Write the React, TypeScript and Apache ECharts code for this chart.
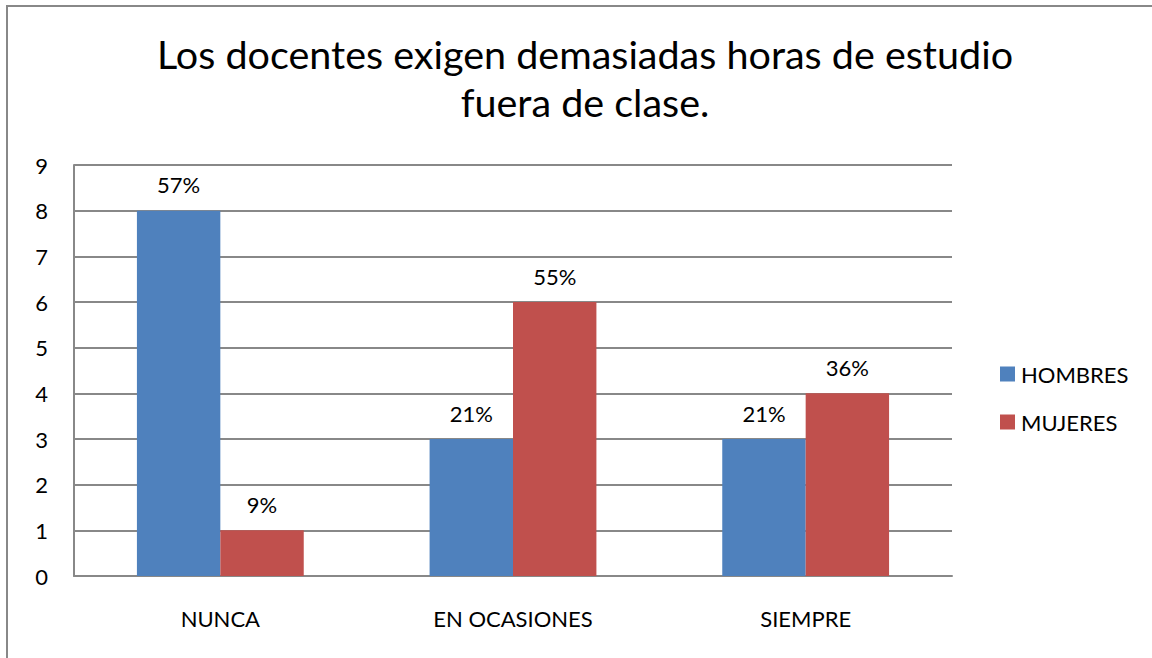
import React, { useEffect, useRef } from "react";
import * as echarts from "echarts";

const categories = ["NUNCA", "EN OCASIONES", "SIEMPRE"];
const hombres = [8, 3, 3];
const mujeres = [1, 6, 4];
const hombresPct = ["57%", "21%", "21%"];
const mujeresPct = ["9%", "55%", "36%"];
const titleText = "Los docentes exigen demasiadas horas de estudio\nfuera de clase.";

export default function App() {
  const ref = useRef<HTMLDivElement>(null);
  useEffect(() => {
    const chart = echarts.init(ref.current!, null, { renderer: "svg" });
    const font = "Lato, 'Open Sans', sans-serif";
    chart.setOption({
      animation: false,
      backgroundColor: "#ffffff",
      textStyle: { fontFamily: font },
      graphic: [
        {
          type: "rect",
          shape: { x: 7, y: 6, width: 1200, height: 700 },
          style: { fill: "none", stroke: "#888888", lineWidth: 2 },
          silent: true,
        },
      ],
      title: {
        text: titleText,
        left: 580,
        top: 24,
        textAlign: "center",
        textStyle: {
          fontFamily: font,
          fontSize: 39.5,
          fontWeight: "normal",
          color: "#000000",
          lineHeight: 48,
        },
      },
      legend: {
        orient: "vertical",
        left: 995,
        top: 358,
        itemWidth: 15,
        itemHeight: 15,
        itemGap: 26,
        icon: "rect",
        textStyle: { fontFamily: font, fontSize: 22, color: "#000000", padding: [0, 0, 0, 1] },
        data: ["HOMBRES", "MUJERES"],
      },
      grid: { left: 74, top: 165, width: 878, height: 411, containLabel: false },
      xAxis: {
        type: "category",
        data: categories,
        axisLine: { show: true, lineStyle: { color: "#888888", width: 2 } },
        axisTick: { show: false },
        axisLabel: { fontFamily: font, fontSize: 22, color: "#000000", margin: 31 },
      },
      yAxis: {
        type: "value",
        min: 0,
        max: 9,
        interval: 1,
        axisLine: { show: true, lineStyle: { color: "#888888", width: 2 } },
        axisTick: { show: false },
        axisLabel: { fontFamily: font, fontSize: 22, color: "#000000", margin: 26 },
        splitLine: { show: true, lineStyle: { color: "#888888", width: 2 } },
      },
      series: [
        {
          name: "HOMBRES",
          type: "bar",
          data: hombres,
          barGap: "0%",
          barCategoryGap: "43%",
          itemStyle: { color: "#4F81BD" },
          label: {
            show: true,
            position: "top",
            distance: 15,
            fontFamily: font,
            fontSize: 22,
            color: "#000000",
            formatter: (p: any) => hombresPct[p.dataIndex],
          },
        },
        {
          name: "MUJERES",
          type: "bar",
          data: mujeres,
          itemStyle: { color: "#C0504D" },
          label: {
            show: true,
            position: "top",
            distance: 15,
            fontFamily: font,
            fontSize: 22,
            color: "#000000",
            formatter: (p: any) => mujeresPct[p.dataIndex],
          },
        },
      ],
    });
    return () => chart.dispose();
  }, []);
  return (
    <div
      ref={ref}
      style={{ position: "absolute", left: 0, top: 0, width: 1152, height: 658 }}
    />
  );
}
